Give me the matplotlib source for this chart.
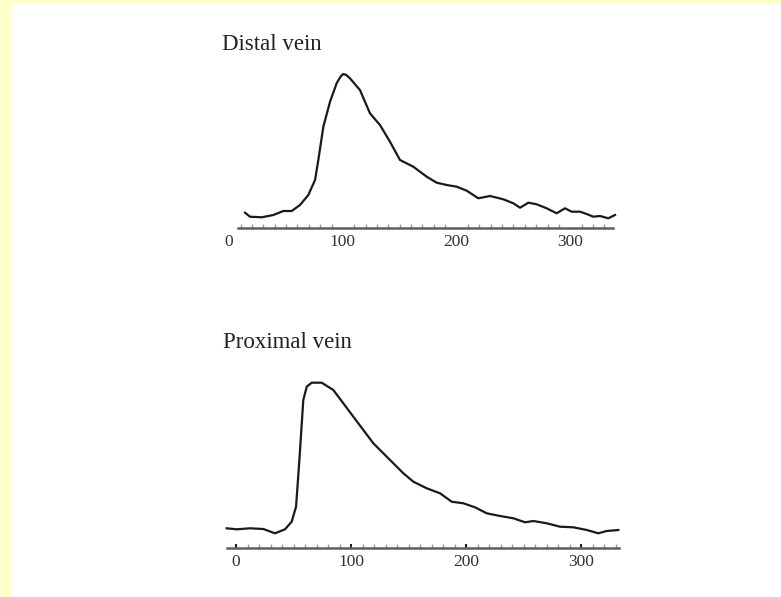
import matplotlib
matplotlib.use("Agg")
import matplotlib.pyplot as plt
from matplotlib.patches import Rectangle

# curves (x in the plotted units, y in arbitrary height units)
distal_x = [13.9, 18.3, 28.6, 38.8, 47.6, 55.0, 62.3, 69.6, 75.5, 78.4, 82.8, 88.7,
            94.5, 98.0, 100.4, 103.0, 106.2, 115.0, 123.8, 132.6, 141.4, 150.2, 161.9, 173.7,
            182.5, 191.3, 200.1, 208.9, 219.1, 229.4, 241.1, 249.9, 255.8, 263.1,
            270.4, 279.2, 288.0, 295.3, 301.2, 308.5, 314.4, 320.2, 326.1, 333.4, 339.3]
distal_y = [15.3, 11.3, 10.7, 13.0, 17.0, 17.0, 23.0, 33.0, 48.0, 68.0, 101.3, 126.3,
            144.7, 151.5, 154.0, 153.0, 149.7, 138.0, 114.7, 103.0, 86.3, 68.0, 61.3, 51.3,
            45.3, 43.0, 41.3, 37.3, 29.7, 32.0, 28.7, 24.7, 20.3, 25.3,
            23.7, 19.7, 14.7, 19.7, 16.3, 16.3, 14.0, 11.3, 12.0, 9.7, 13.0]

proximal_x = [-8.1, 0.6, 12.2, 23.7, 33.9, 42.6, 48.4, 52.2, 55.1, 58.5, 61.5, 65.8,
              74.5, 84.6, 93.3, 102.0, 110.7, 119.4, 128.1, 136.8, 145.5, 154.2,
              165.8, 177.4, 187.5, 197.7, 207.8, 218.0, 229.6, 241.2, 251.3, 258.5,
              270.2, 281.7, 293.3, 305.0, 315.0, 322.3, 332.4]
proximal_y = [19.7, 18.7, 19.7, 19.0, 14.7, 18.7, 26.3, 41.3, 88.0, 148.0, 161.3, 165.3,
              165.3, 158.0, 144.7, 131.3, 118.0, 104.7, 94.7, 84.7, 74.7, 66.3,
              59.7, 54.7, 46.3, 44.7, 40.7, 34.7, 32.0, 29.7, 25.7, 27.0,
              24.7, 21.3, 20.7, 18.0, 14.7, 17.0, 18.0]

titles = ["Distal vein", "Proximal vein"]
tick_vals = [0, 100, 200, 300]
tick_labels = ["0", "100", "200", "300"]

W, H = 781, 597
fig = plt.figure(figsize=(W / 100, H / 100), dpi=100)
fig.patch.set_facecolor("white")
# yellow page edge at left and top
fig.patches.append(Rectangle((0, 0), 11 / W, 1, transform=fig.transFigure,
                             facecolor="#ffffcc", edgecolor="none"))
fig.patches.append(Rectangle((0, 1 - 3 / H), 1, 3 / H, transform=fig.transFigure,
                             facecolor="#ffffcc", edgecolor="none"))

serif = "Liberation Serif"

def panel(rect, xs, ys, xlim, spine, title, title_pos, major_len):
    ax = fig.add_axes(rect)
    ax.set_zorder(2)
    ax.patch.set_alpha(0)
    ax.plot(xs, ys, color="#1a1a1a", lw=1.6, clip_on=False)
    ax.set_xlim(*xlim)
    ax.set_ylim(0, 175)
    for s in ["top", "right", "left"]:
        ax.spines[s].set_visible(False)
    ax.spines["bottom"].set_color("#5e5e5e")
    ax.spines["bottom"].set_linewidth(1.8)
    ax.spines["bottom"].set_bounds(*spine)
    ax.set_yticks([])
    ax.set_xticks(tick_vals)
    ax.set_xticklabels(tick_labels, fontfamily=serif, fontsize=12.5, color="#333333")
    ax.set_xticks(range(10, 340, 10), minor=True)
    ax.tick_params(axis="x", which="major", direction="in", length=major_len, width=1.5,
                   color="#222222", pad=4)
    ax.tick_params(axis="x", which="minor", direction="in", length=3, width=1,
                   color="#999999")
    fig.text(title_pos[0] / W, 1 - title_pos[1] / H, title, fontfamily=serif,
             fontsize=16.5, ha="left", va="center", color="#222222")
    return ax

panel([223.5 / W, (H - 228) / H, 391.5 / W, 175 / H], distal_x, distal_y,
      (-5, 339.3), (7.7, 337.6), titles[0], (222, 45), 0)
panel([226.7 / W, (H - 548) / H, 392.3 / W, 175 / H], proximal_x, proximal_y,
      (-8.1, 333), (-8.1, 333), titles[1], (223, 342), 3)

fig.savefig("out.png", dpi=100)
